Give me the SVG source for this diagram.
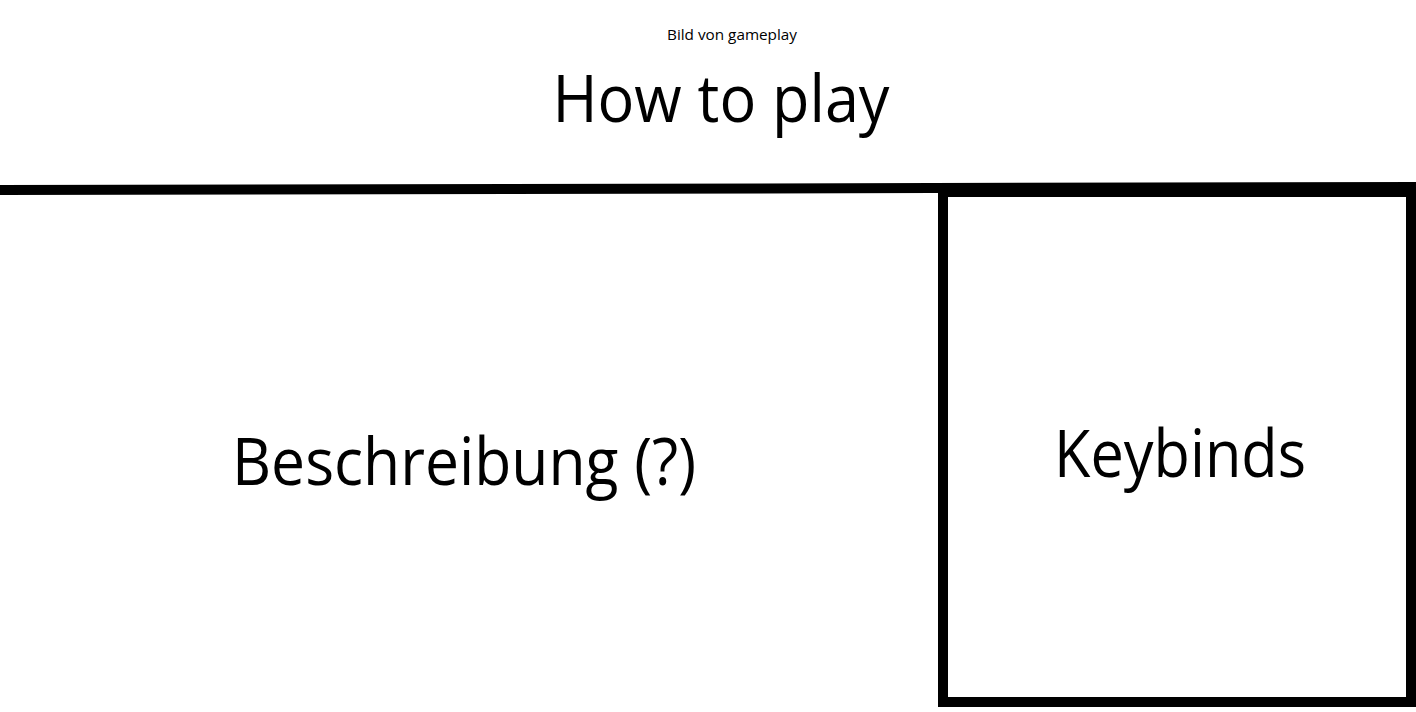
<svg xmlns="http://www.w3.org/2000/svg" width="1416" height="712" viewBox="0 0 1416 712">
<style>
text{font-family:"Open Sans","Noto Sans","Liberation Sans",sans-serif;fill:#000;text-anchor:middle}
.big{font-size:66px}
.small{font-size:15px}
.frame{fill:none;stroke:#000;stroke-width:10}
</style>
<rect width="1416" height="712" fill="#fff"/>
<g id="header">
<text class="small" x="732" y="40" textLength="130" lengthAdjust="spacingAndGlyphs">Bild von gameplay</text>
<text class="big" x="721" y="122" textLength="337" lengthAdjust="spacingAndGlyphs">How to play</text>
</g>
<g id="connectors">
<line class="frame" x1="0" y1="190" x2="1416" y2="187"/>
</g>
<g id="beschreibung">
<text class="big" x="464" y="485" textLength="464" lengthAdjust="spacingAndGlyphs">Beschreibung (?)</text>
</g>
<g id="keybinds">
<rect class="frame" x="943" y="192" width="468" height="510"/>
<text class="big" x="1180" y="477" textLength="252" lengthAdjust="spacingAndGlyphs">Keybinds</text>
</g>
</svg>
